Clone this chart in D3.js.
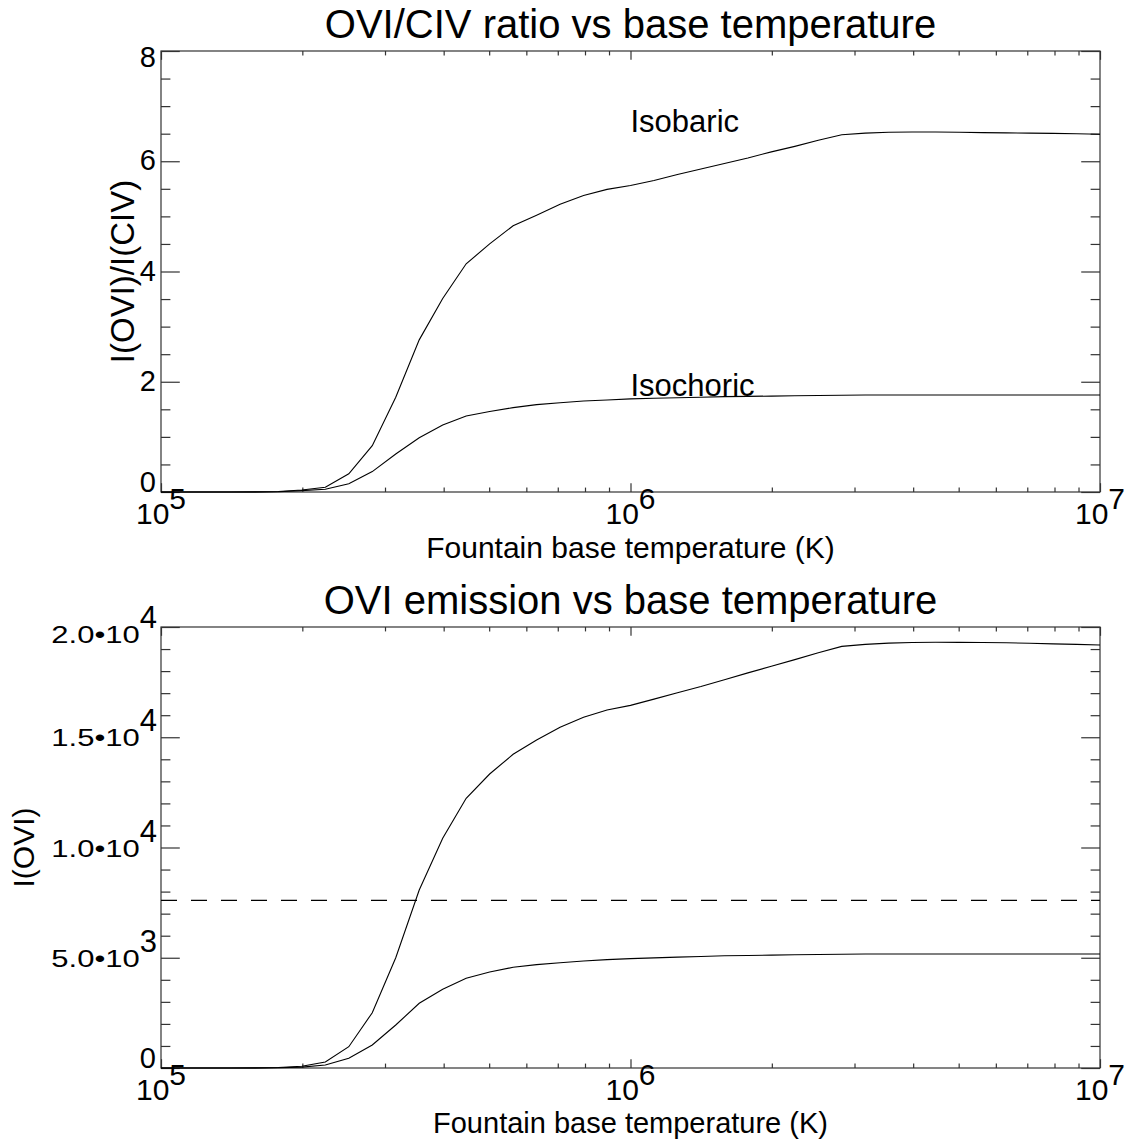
<!DOCTYPE html>
<html>
<head>
<meta charset="utf-8">
<script src="https://cdn.jsdelivr.net/npm/d3@7"></script>
<style>
body { margin: 0; background: #fff; }
text { font-family: "Liberation Sans", Arial, sans-serif; fill: #000; }
</style>
</head>
<body>
<svg id="chart" width="1133" height="1141"></svg>
<script>
// log10 of fountain base temperature (K)
var logT = [5.00, 5.05, 5.10, 5.15, 5.20, 5.25, 5.30, 5.35, 5.40, 5.45,
            5.50, 5.55, 5.60, 5.65, 5.70, 5.75, 5.80, 5.85, 5.90, 5.95,
            6.00, 6.05, 6.10, 6.15, 6.20, 6.25, 6.30, 6.35, 6.40, 6.45,
            6.50, 6.55, 6.60, 6.65, 6.70, 6.75, 6.80, 6.85, 6.90, 6.95, 7.00];

// I(OVI)/I(CIV)
var ratioIsobaric = [0, 0, 0, 0, 0.002, 0.008, 0.035, 0.085, 0.33, 0.84,
                     1.72, 2.76, 3.51, 4.14, 4.50, 4.83, 5.02, 5.22, 5.38, 5.49,
                     5.56, 5.65, 5.76, 5.86, 5.96, 6.06, 6.17, 6.27, 6.38, 6.48,
                     6.51, 6.525, 6.53, 6.53, 6.525, 6.52, 6.515, 6.51, 6.505, 6.50, 6.49];
var ratioIsochoric = [0, 0, 0, 0, 0.001, 0.004, 0.025, 0.05, 0.15, 0.37,
                      0.69, 0.985, 1.215, 1.38, 1.46, 1.53, 1.585, 1.62, 1.65, 1.67,
                      1.69, 1.70, 1.71, 1.72, 1.73, 1.735, 1.74, 1.745, 1.75, 1.755,
                      1.76, 1.76, 1.76, 1.76, 1.76, 1.76, 1.76, 1.76, 1.76, 1.76, 1.76];

// I(OVI)
var oviIsobaric = [0, 0, 0, 0, 5, 25, 80, 272, 966, 2508,
                   5000, 8073, 10417, 12231, 13333, 14227, 14875, 15451, 15905, 16236,
                   16445, 16730, 17020, 17300, 17610, 17920, 18220, 18520, 18830, 19120,
                   19210, 19270, 19295, 19306, 19305, 19295, 19285, 19260, 19235, 19210, 19184];
var oviIsochoric = [0, 0, 0, 0, 3, 12, 40, 136, 440, 1043,
                    1950, 2934, 3569, 4068, 4350, 4567, 4690, 4776, 4855, 4915,
                    4960, 4995, 5030, 5060, 5090, 5105, 5120, 5135, 5150, 5160,
                    5170, 5170, 5170, 5170, 5170, 5170, 5170, 5170, 5170, 5170, 5170];
var oviObserved = 7600;

var tempTicks = [1e5, 1e6, 1e7];
var tempTickLabels = [["10", "5"], ["10", "6"], ["10", "7"]];
var ratioTicks = [0, 2, 4, 6, 8];
var ratioTickLabels = [["0", ""], ["2", ""], ["4", ""], ["6", ""], ["8", ""]];
var oviTicks = [0, 5000, 10000, 15000, 20000];
var oviTickLabels = [["0", ""], ["5.0\u202210", "3"], ["1.0\u202210", "4"], ["1.5\u202210", "4"], ["2.0\u202210", "4"]];

var svg = d3.select("#chart");
var left = 161, right = 1100;

var x = d3.scaleLog()
    .domain([1e5, 1e7])
    .range([left, right]);

var minorT = [];
[1e5, 1e6].forEach(function(d) {
    for (var k = 2; k <= 9; k++) minorT.push(d * k);
});

function draw(p) {
    var g = svg.append("g");
    var y = d3.scaleLinear().domain(p.domain).range([p.bottom, p.top]);
    var pw = right - left, ph = p.bottom - p.top;

    // frame
    g.append("rect")
        .attr("x", left).attr("y", p.top)
        .attr("width", pw).attr("height", ph)
        .attr("fill", "none").attr("stroke", "#333").attr("stroke-width", 1.2);

    function ticks(axis, pos, vals, size) {
        g.append("g")
            .attr("transform", pos)
            .call(axis.tickValues(vals).tickSize(size).tickSizeOuter(0).tickFormat(""))
            .call(function(s) {
                s.select(".domain").remove();
                s.selectAll("line").attr("stroke", "#333").attr("stroke-width", 1.2);
            });
    }
    var xMaj = ph * 0.02, yMaj = pw * 0.02;
    ticks(d3.axisBottom(x), "translate(0," + p.bottom + ")", tempTicks, -xMaj);
    ticks(d3.axisBottom(x), "translate(0," + p.bottom + ")", minorT, -xMaj / 2);
    ticks(d3.axisTop(x), "translate(0," + p.top + ")", tempTicks, -xMaj);
    ticks(d3.axisTop(x), "translate(0," + p.top + ")", minorT, -xMaj / 2);
    ticks(d3.axisLeft(y), "translate(" + left + ",0)", p.ticks, -yMaj);
    ticks(d3.axisLeft(y), "translate(" + left + ",0)", p.minor, -yMaj / 2);
    ticks(d3.axisRight(y), "translate(" + right + ",0)", p.ticks, -yMaj);
    ticks(d3.axisRight(y), "translate(" + right + ",0)", p.minor, -yMaj / 2);

    // x tick labels: 10 with exponent
    tempTicks.forEach(function(t, i) {
        var lab = g.append("g");
        var base = lab.append("text").attr("font-size", 30).attr("y", p.bottom + 32).text(tempTickLabels[i][0]);
        var ex = lab.append("text").attr("font-size", 30).attr("y", p.bottom + 17).text(tempTickLabels[i][1]);
        var wb = base.node().getComputedTextLength(), we = ex.node().getComputedTextLength();
        var x0 = x(t) - (wb + we) / 2;
        base.attr("x", x0);
        ex.attr("x", x0 + wb);
    });

    // y tick labels
    p.ticks.forEach(function(t, i) {
        var n = p.ticks.length;
        var by = y(t) + (i === 0 ? 0 : (i === n - 1 ? 16 : 9));
        var lbl = p.labels[i];
        var ex = g.append("text").attr("font-size", 31).attr("text-anchor", "end")
            .attr("x", left - 4).attr("y", by - 15).text(lbl[1]);
        if (lbl[1] === "") {
            g.append("text").attr("font-size", 29).attr("text-anchor", "end")
                .attr("x", left - 5).attr("y", by).text(lbl[0]);
        } else {
            var we = ex.node().getComputedTextLength();
            g.append("text").attr("font-size", 31).attr("text-anchor", "end")
                .attr("transform", "translate(" + (left - 4 - we) + "," + by + ") scale(1,0.76)")
                .text(lbl[0]);
        }
    });

    // curves
    var line = d3.line()
        .x(function(d, i) { return x(Math.pow(10, logT[i])); })
        .y(function(d) { return y(d); });
    p.series.forEach(function(s) {
        g.append("path")
            .datum(s)
            .attr("fill", "none")
            .attr("stroke", "#000")
            .attr("stroke-width", 1.1)
            .attr("d", line);
    });

    if (p.hline !== undefined) {
        g.append("line")
            .attr("x1", left).attr("x2", right)
            .attr("y1", y(p.hline)).attr("y2", y(p.hline))
            .attr("stroke", "#000").attr("stroke-width", 1.1)
            .attr("stroke-dasharray", "16,14");
    }

    (p.notes || []).forEach(function(nt) {
        g.append("text").attr("font-size", 31)
            .attr("x", x(nt.t)).attr("y", y(nt.v))
            .text(nt.text);
    });

    // titles
    g.append("text").attr("font-size", 40).attr("text-anchor", "middle")
        .attr("x", (left + right) / 2).attr("y", p.top - 13).text(p.title);
    g.append("text").attr("font-size", p.xtSize).attr("text-anchor", "middle")
        .attr("x", (left + right) / 2).attr("y", p.bottom + p.xtOffset).text("Fountain base temperature (K)");
    g.append("text").attr("font-size", p.ysize).attr("text-anchor", "middle")
        .attr("transform", "translate(" + p.ytx + "," + (p.top + p.bottom) / 2 + ") rotate(-90)")
        .text(p.ytitle);
}

draw({
    top: 51, bottom: 492, domain: [0, 8],
    ticks: ratioTicks, labels: ratioTickLabels,
    minor: [0.5, 1, 1.5, 2.5, 3, 3.5, 4.5, 5, 5.5, 6.5, 7, 7.5],
    series: [ratioIsobaric, ratioIsochoric],
    notes: [{t: 1e6, v: 6.525, text: "Isobaric"}, {t: 1e6, v: 1.74, text: "Isochoric"}],
    title: "OVI/CIV ratio vs base temperature",
    ytitle: "I(OVI)/I(CIV)", ysize: 33, ytx: 134, xtOffset: 66, xtSize: 30
});

draw({
    top: 627, bottom: 1068, domain: [0, 20000],
    ticks: oviTicks, labels: oviTickLabels,
    minor: [1000, 2000, 3000, 4000, 6000, 7000, 8000, 9000, 11000, 12000, 13000, 14000, 16000, 17000, 18000, 19000],
    series: [oviIsobaric, oviIsochoric],
    hline: oviObserved,
    title: "OVI emission vs base temperature",
    ytitle: "I(OVI)", ysize: 30, ytx: 34, xtOffset: 65, xtSize: 29
});
</script>
</body>
</html>
